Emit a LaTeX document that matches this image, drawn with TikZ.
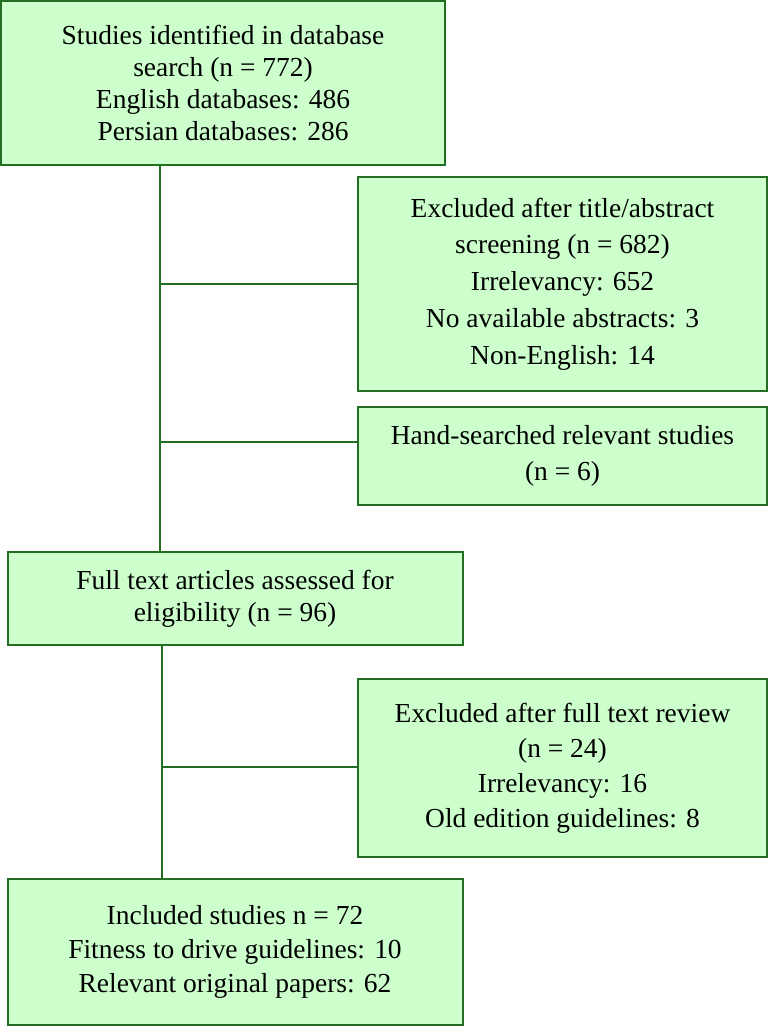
\documentclass[tikz,border=0pt]{standalone}
\usepackage{fontspec}
\setmainfont{Liberation Serif}
\usepackage{xcolor}
\definecolor{boxfill}{RGB}{204,255,204}
\definecolor{boxline}{RGB}{35,110,35}
\usepackage{tikz}
\usetikzlibrary{positioning, calc}

\begin{document}
\begin{tikzpicture}[x=0.75pt, y=-0.75pt,
    box/.style={rectangle, draw=boxline, fill=boxfill, line width=1.5pt,
      inner sep=0pt, align=center, font=\fontsize{20.6}{24}\selectfont},
    link/.style={draw=boxline, line width=1.5pt}
]
\useasboundingbox (0,0) rectangle (771,1026);
\node[box, minimum width=333pt, minimum height=123pt] (search) at (223,83)
  {Studies identified in database\\search (n = 772)\\English databases: 486\\Persian databases: 286};
\node[box, font=\fontsize{20.6}{27.6}\selectfont,
  minimum width=306.75pt, minimum height=160.5pt] (excltitle) at (562.5,284)
  {Excluded after title/abstract\\screening (n = 682)\\Irrelevancy: 652\\No available abstracts: 3\\Non-English: 14};
\node[box, font=\fontsize{20.6}{26.5}\selectfont,
  minimum width=306.75pt, minimum height=73.5pt] (hand) at (562.5,456)
  {Hand-searched relevant studies\\(n = 6)};
\node[box, minimum width=341.25pt, minimum height=69.75pt] (fulltext) at (235,598.5)
  {Full text articles assessed for\\eligibility (n = 96)};
\node[box, font=\fontsize{20.6}{26.2}\selectfont,
  minimum width=306.75pt, minimum height=133.5pt] (exclfull) at (562.5,768)
  {Excluded after full text review\\(n = 24)\\Irrelevancy: 16\\Old edition guidelines: 8};
\node[box, font=\fontsize{20.6}{25.5}\selectfont,
  minimum width=341.25pt, minimum height=109.5pt] (included) at (235,952)
  {Included studies n = 72\\Fitness to drive guidelines: 10\\Relevant original papers: 62};
% branch points
\coordinate (jtitle) at (160,284);
\coordinate (jhand) at (160,442);
\coordinate (jfull) at (162,767);
\draw[link] (search.south -| jtitle) -- (fulltext.north -| jtitle);
\draw[link] (jtitle) -- (excltitle.west);
\draw[link] (jhand) -- (hand.west |- jhand);
\draw[link] (fulltext.south -| jfull) -- (included.north -| jfull);
\draw[link] (jfull) -- (exclfull.west |- jfull);
\end{tikzpicture}
\end{document}
